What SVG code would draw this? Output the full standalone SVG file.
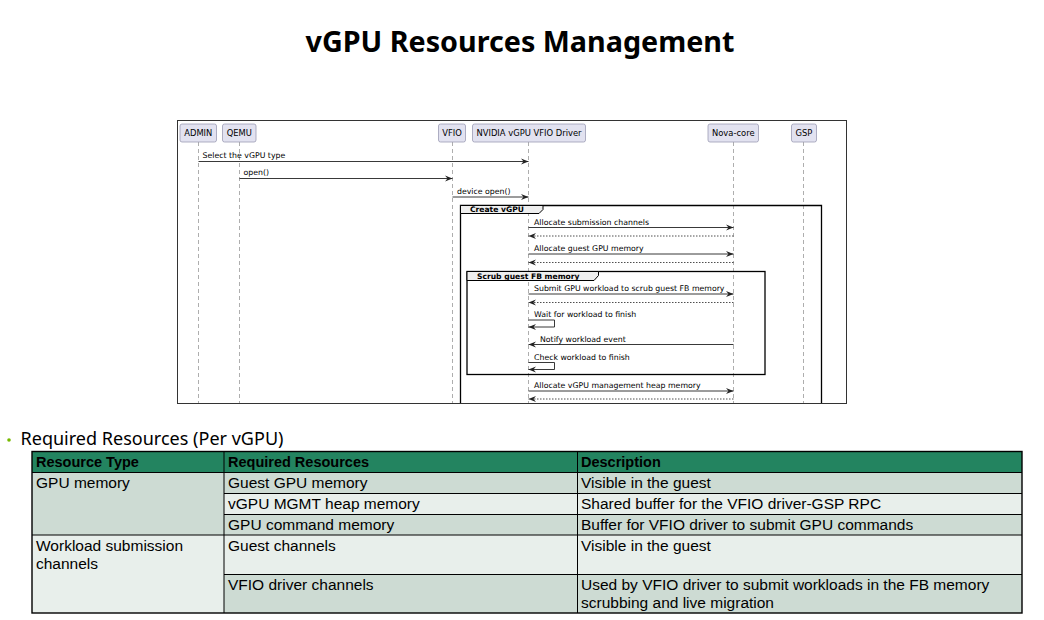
<svg xmlns="http://www.w3.org/2000/svg" width="1044" height="620" viewBox="0 0 1044 620">
<style>
.seq{font-family:"DejaVu Sans",sans-serif;font-size:7.8px;fill:#000}
.part{font-family:"DejaVu Sans",sans-serif;font-size:8.4px;fill:#000;text-anchor:middle}
.grp{font-family:"DejaVu Sans",sans-serif;font-size:7.6px;font-weight:bold;fill:#000}
.pbox{fill:#E2E2F0;stroke:#9C9CB4;stroke-width:0.8}
.life{stroke:#999;stroke-width:0.8;stroke-dasharray:4,3;fill:none}
.msg{stroke:#222;stroke-width:0.9;fill:none;marker-end:url(#ah)}
.ret{stroke:#222;stroke-width:0.8;fill:none;stroke-dasharray:1.5,1.5;marker-end:url(#ah)}
.frame{stroke:#000;stroke-width:1.3;fill:none}
.tab{fill:#EEEEEE;stroke:#000;stroke-width:1}
.cell{font-family:"Liberation Sans",Arial,sans-serif;font-size:15.5px;fill:#000}
.hdr{font-family:"Liberation Sans",Arial,sans-serif;font-size:14.5px;font-weight:bold;fill:#000}
.dk{fill:#CDDBD3}
.lt{fill:#E8EFEB}
.tl{stroke:#000;stroke-width:1;fill:none}
</style>
<defs>
<marker id="ah" markerUnits="userSpaceOnUse" markerWidth="8" markerHeight="7" refX="7.5" refY="3.5" orient="auto">
<path d="M0,0.5 L7.5,3.5 L0,6.5 L2.5,3.5 Z" fill="#222"/>
</marker>
</defs>
<rect width="1044" height="620" fill="#fff"/>
<text x="520" y="52" text-anchor="middle" font-family="'Noto Sans',sans-serif" font-size="28" font-weight="bold" fill="#000" textLength="429" lengthAdjust="spacingAndGlyphs">vGPU Resources Management</text>

<g id="sequence">
<rect x="177.5" y="120.5" width="669" height="283" fill="#fff" stroke="#333" stroke-width="1"/>
<g id="lifelines">
<line class="life" x1="198.5" y1="142" x2="198.5" y2="403"/>
<line class="life" x1="239.5" y1="142" x2="239.5" y2="403"/>
<line class="life" x1="452.5" y1="142" x2="452.5" y2="403"/>
<line class="life" x1="528.5" y1="142" x2="528.5" y2="403"/>
<line class="life" x1="733.5" y1="142" x2="733.5" y2="403"/>
<line class="life" x1="803.5" y1="142" x2="803.5" y2="403"/>
</g>
<g id="p-admin"><rect class="pbox" x="180" y="124" width="36.5" height="18" rx="2"/><text class="part" x="198.3" y="136">ADMIN</text></g>
<g id="p-qemu"><rect class="pbox" x="222.5" y="124" width="33.5" height="18" rx="2"/><text class="part" x="239.3" y="136">QEMU</text></g>
<g id="p-vfio"><rect class="pbox" x="438.5" y="124" width="27" height="18" rx="2"/><text class="part" x="452" y="136">VFIO</text></g>
<g id="p-driver"><rect class="pbox" x="472.5" y="124" width="113" height="18" rx="2"/><text class="part" x="529" y="136">NVIDIA vGPU VFIO Driver</text></g>
<g id="p-nova"><rect class="pbox" x="708" y="124" width="50.5" height="18" rx="2"/><text class="part" x="733.3" y="136">Nova-core</text></g>
<g id="p-gsp"><rect class="pbox" x="791.5" y="124" width="25" height="18" rx="2"/><text class="part" x="804" y="136">GSP</text></g>

<g id="group-create">
<path class="frame" d="M460.5,403 L460.5,205.5 L821.5,205.5 L821.5,403"/>
<path class="tab" d="M460.5,205.5 L543,205.5 L543,209.5 L539,213.5 L460.5,213.5 Z"/>
<text class="grp" x="470" y="212.3">Create vGPU</text>
</g>
<g id="group-scrub">
<rect class="frame" x="467" y="271.5" width="298" height="103"/>
<path class="tab" d="M467,271.5 L598.5,271.5 L598.5,275.5 L594,280.5 L467,280.5 Z"/>
<text class="grp" x="477" y="278.8">Scrub guest FB memory</text>
</g>

<g id="connectors">
<line class="msg" x1="198.5" y1="161.5" x2="528.5" y2="161.5"/>
<line class="msg" x1="239.5" y1="178.5" x2="452.5" y2="178.5"/>
<line class="msg" x1="452.5" y1="197" x2="528.5" y2="197"/>
<line class="msg" x1="528.5" y1="227.5" x2="733.5" y2="227.5"/>
<line class="ret" x1="733.5" y1="236" x2="528.5" y2="236"/>
<line class="msg" x1="528.5" y1="254" x2="733.5" y2="254"/>
<line class="ret" x1="733.5" y1="262.5" x2="528.5" y2="262.5"/>
<line class="msg" x1="528.5" y1="294" x2="733.5" y2="294"/>
<line class="ret" x1="733.5" y1="302.5" x2="528.5" y2="302.5"/>
<polyline class="msg" points="528.5,320 554.5,320 554.5,327 528.5,327"/>
<line class="msg" x1="733.5" y1="344.5" x2="528.5" y2="344.5"/>
<polyline class="msg" points="528.5,362.5 554.5,362.5 554.5,369.5 528.5,369.5"/>
<line class="msg" x1="528.5" y1="391" x2="733.5" y2="391"/>
<line class="ret" x1="733.5" y1="399" x2="528.5" y2="399"/>
</g>
<g id="labels">
<text class="seq" x="202.5" y="158">Select the vGPU type</text>
<text class="seq" x="243.5" y="175">open()</text>
<text class="seq" x="457" y="193.5">device open()</text>
<text class="seq" x="534" y="224.5">Allocate submission channels</text>
<text class="seq" x="534" y="251">Allocate guest GPU memory</text>
<text class="seq" x="534" y="291">Submit GPU workload to scrub guest FB memory</text>
<text class="seq" x="534" y="317">Wait for workload to finish</text>
<text class="seq" x="540" y="341.5">Notify workload event</text>
<text class="seq" x="534" y="359.5">Check workload to finish</text>
<text class="seq" x="534" y="388">Allocate vGPU management heap memory</text>
</g>
</g>

<g id="bullet">
<circle cx="9" cy="440" r="1.8" fill="#76B900"/>
<text x="20.5" y="445" font-family="'Noto Sans',sans-serif" font-size="17.5" fill="#000" textLength="263" lengthAdjust="spacingAndGlyphs">Required Resources (Per vGPU)</text>
</g>

<g id="table">
<rect x="32" y="451.5" width="990" height="21" fill="#238460"/>
<rect class="dk" x="32" y="472.5" width="192" height="62.5"/>
<rect class="lt" x="32" y="535" width="192" height="78"/>
<rect class="dk" x="224" y="472.5" width="798" height="21"/>
<rect class="lt" x="224" y="493.5" width="798" height="21"/>
<rect class="dk" x="224" y="514.5" width="798" height="20.5"/>
<rect class="lt" x="224" y="535" width="798" height="39.5"/>
<rect class="dk" x="224" y="574.5" width="798" height="38.5"/>
<g class="tl">
<rect x="32" y="451.5" width="990" height="161.5" stroke-width="1.4"/>
<line x1="32" y1="472.5" x2="1022" y2="472.5"/>
<line x1="224" y1="493.5" x2="1022" y2="493.5"/>
<line x1="224" y1="514.5" x2="1022" y2="514.5"/>
<line x1="32" y1="535" x2="1022" y2="535"/>
<line x1="224" y1="574.5" x2="1022" y2="574.5"/>
<line x1="224" y1="451.5" x2="224" y2="613"/>
<line x1="577.5" y1="451.5" x2="577.5" y2="613"/>
</g>
<text class="hdr" x="36" y="467">Resource Type</text>
<text class="hdr" x="228" y="467">Required Resources</text>
<text class="hdr" x="581" y="467">Description</text>
<text class="cell" x="36" y="488">GPU memory</text>
<text class="cell" x="228" y="488">Guest GPU memory</text>
<text class="cell" x="581" y="488">Visible in the guest</text>
<text class="cell" x="228" y="509">vGPU MGMT heap memory</text>
<text class="cell" x="581" y="509">Shared buffer for the VFIO driver-GSP RPC</text>
<text class="cell" x="228" y="530">GPU command memory</text>
<text class="cell" x="581" y="530">Buffer for VFIO driver to submit GPU commands</text>
<text class="cell" x="36" y="551">Workload submission<tspan x="36" dy="17.5">channels</tspan></text>
<text class="cell" x="228" y="551">Guest channels</text>
<text class="cell" x="581" y="551">Visible in the guest</text>
<text class="cell" x="228" y="590">VFIO driver channels</text>
<text class="cell" x="581" y="590">Used by VFIO driver to submit workloads in the FB memory<tspan x="581" dy="18">scrubbing and live migration</tspan></text>
</g>
</svg>
